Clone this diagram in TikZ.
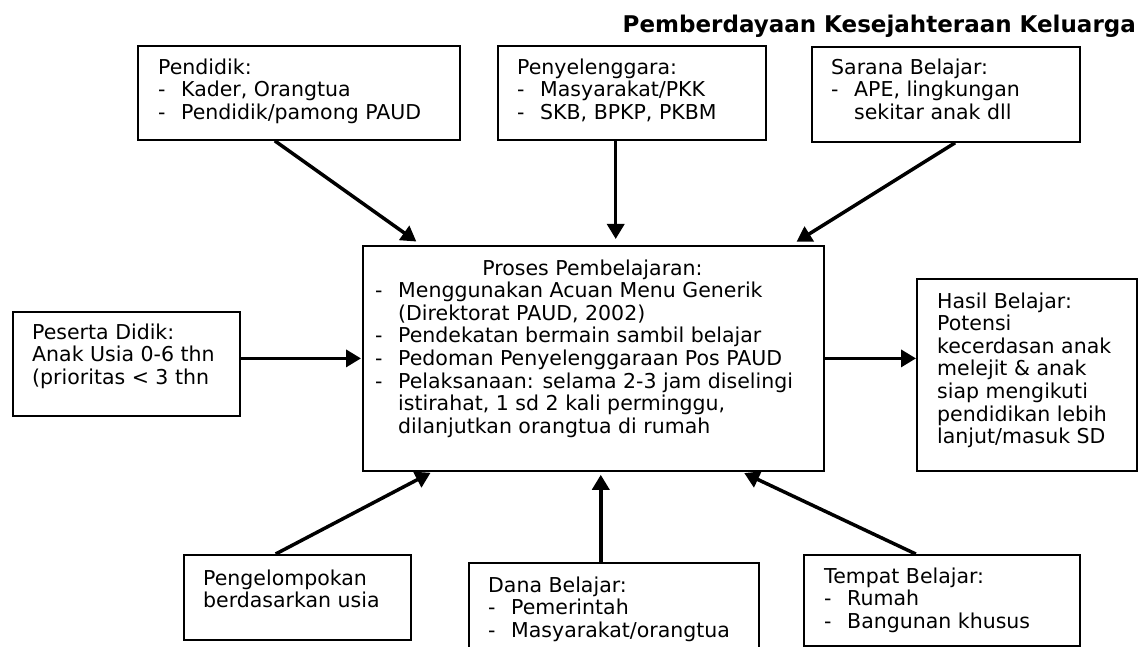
\documentclass[tikz,border=0pt]{standalone}
\usepackage{fontspec}
\setmainfont{DejaVu Sans}
\usetikzlibrary{arrows.meta,calc}
\newcommand{\itemdash}{\makebox[23pt][l]{-}}
\newcommand{\itemgap}{\hspace*{23pt}}
\begin{document}
\begin{tikzpicture}[x=1pt,y=-1pt,
  box/.style={draw=black, line width=1.8pt, rectangle, inner sep=0pt, anchor=north west},
  txt/.style={inner sep=0pt, anchor=north west, align=left, font=\fontsize{20.5}{22.6}\selectfont},
  arr/.style={line width=3.5pt, -{Triangle[length=15pt,width=17pt]}}]
\useasboundingbox[fill=white] (0,0) rectangle (1138,647);

% title
\node[anchor=base east, inner sep=0pt, font=\bfseries\fontsize{23}{27}\selectfont] (title) at (1136,33) {Pemberdayaan Kesejahteraan Keluarga};

% boxes
\node[box, minimum width=322pt, minimum height=94pt] (pendidik) at (137,45) {};
\node[box, minimum width=268pt, minimum height=94pt] (penyelenggara) at (497,45) {};
\node[box, minimum width=268pt, minimum height=95pt] (sarana) at (811,46) {};
\node[box, minimum width=461pt, minimum height=225pt] (proses) at (362,245) {};
\node[box, minimum width=227pt, minimum height=104pt] (peserta) at (12,311) {};
\node[box, minimum width=220pt, minimum height=192pt] (hasil) at (916,278) {};
\node[box, minimum width=227pt, minimum height=85pt] (pengelompokan) at (183,554) {};
\node[box, minimum width=290pt, minimum height=100pt] (dana) at (468,562) {};
\node[box, minimum width=276pt, minimum height=91pt] (tempat) at (803,554) {};

% texts
\node[txt] (pendidikT) at (158,58.4) {Pendidik:\\ \itemdash Kader, Orangtua\\ \itemdash Pendidik/pamong PAUD};
\node[txt] (penyelenggaraT) at (517,58.4) {Penyelenggara:\\ \itemdash Masyarakat/PKK\\ \itemdash SKB, BPKP, PKBM};
\node[txt] (saranaT) at (831,58.4) {Sarana Belajar:\\ \itemdash APE, lingkungan\\ \itemgap sekitar anak dll};
\node[txt, anchor=base] (prosesH) at (592.5,275) {Proses Pembelajaran:};
\node[txt] (prosesT) at (375,281.9) {\itemdash Menggunakan Acuan Menu Generik\\ \itemgap (Direktorat PAUD, 2002)\\ \itemdash Pendekatan bermain sambil belajar\\ \itemdash Pedoman Penyelenggaraan Pos PAUD\\ \itemdash Pelaksanaan: selama 2-3 jam diselingi\\ \itemgap istirahat, 1 sd 2 kali perminggu,\\ \itemgap dilanjutkan orangtua di rumah};
\node[txt] (pesertaT) at (32,323.4) {Peserta Didik:\\ Anak Usia 0-6 thn\\ (prioritas < 3 thn};
\node[txt] (hasilT) at (937,292.4) {Hasil Belajar:\\ Potensi\\ kecerdasan anak\\ melejit \& anak\\ siap mengikuti\\ pendidikan lebih\\ lanjut/masuk SD};
\node[txt] (pengelompokanT) at (203,569.4) {Pengelompokan\\ berdasarkan usia};
\node[txt] (danaT) at (488,576.4) {Dana Belajar:\\ \itemdash Pemerintah\\ \itemdash Masyarakat/orangtua};
\node[txt] (tempatT) at (824,567.4) {Tempat Belajar:\\ \itemdash Rumah\\ \itemdash Bangunan khusus};

% connectors
\coordinate (a1) at ($(pendidik.south west)!0.4255!(pendidik.south east)$);
\coordinate (b1) at ($(proses.north west)!0.128!(proses.north east)$);
\draw[arr, shorten >=6pt] (a1) -- (b1);

\coordinate (a2) at ($(penyelenggara.south west)!0.44!(penyelenggara.south east)$);
\draw[arr, shorten >=6pt] (a2) -- (a2 |- proses.north);

\coordinate (a3) at ($(sarana.south west)!0.534!(sarana.south east)$);
\coordinate (b3) at ($(proses.north west)!0.928!(proses.north east)$);
\draw[arr, shorten >=6pt] (a3) -- (b3);

\draw[arr, shorten >=1pt] (proses.west -| peserta.east) -- (proses.west);
\draw[arr] (proses.east) -- (proses.east -| hasil.west);

\coordinate (a5) at ($(pengelompokan.north west)!0.405!(pengelompokan.north east)$);
\coordinate (b5) at ($(proses.south west)!0.152!(proses.south east)$);
\draw[arr, shorten >=2pt] (a5) -- (b5);

\coordinate (a6) at ($(dana.north west)!0.455!(dana.north east)$);
\draw[arr, shorten >=3pt] (a6) -- (a6 |- proses.south);

\coordinate (a7) at ($(tempat.north west)!0.406!(tempat.north east)$);
\coordinate (b7) at ($(proses.south west)!0.82!(proses.south east)$);
\draw[arr, shorten >=3pt] (a7) -- (b7);
\end{tikzpicture}
\end{document}
